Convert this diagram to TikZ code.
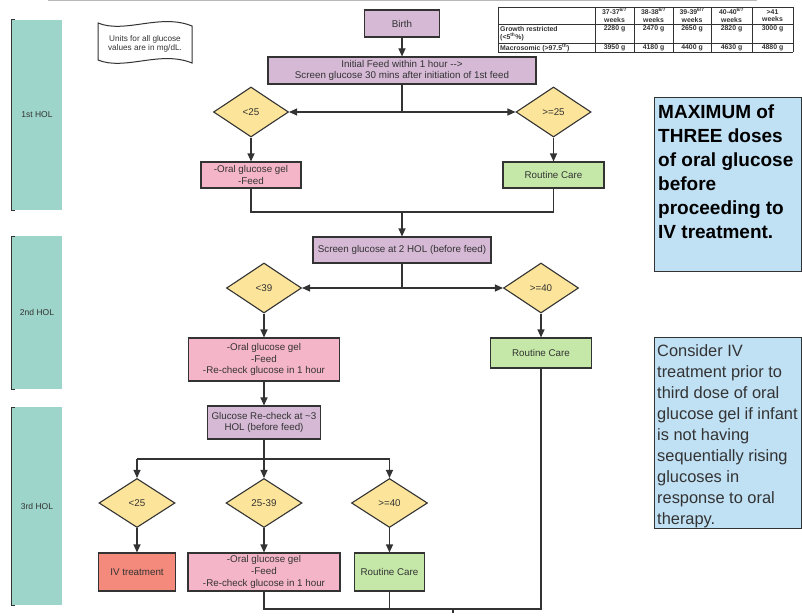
\documentclass[tikz,border=0pt]{standalone}
\usepackage{fontspec}
\setmainfont{Liberation Sans}
\usetikzlibrary{shapes.geometric,arrows.meta}
\definecolor{lc}{HTML}{333333}
\definecolor{tc}{HTML}{333333}
\definecolor{purp}{HTML}{D5B9D5}
\definecolor{yel}{HTML}{FCE59A}
\definecolor{pnk}{HTML}{F5B5C8}
\definecolor{grn}{HTML}{C5E8A8}
\definecolor{sal}{HTML}{F48A7B}
\definecolor{teal}{HTML}{9DD5CA}
\definecolor{blu}{HTML}{C0E0F4}
\tikzset{
  ln/.style={draw=lc, line width=1.1pt},
  bx/.style={rectangle, draw=lc, line width=1.1pt, inner sep=0pt, align=center, text=tc, font=\fontsize{9.8}{11.7}\selectfont},
  dm/.style={diamond, draw=lc, line width=1.1pt, fill=yel, inner sep=0pt, minimum width=75pt, minimum height=50pt, text=tc, font=\fontsize{9.8}{11.7}\selectfont},
  arr/.style={ln, -{Triangle[length=8pt,width=7pt]}},
  tbl/.style={draw=lc, line width=0.6pt},
  tt/.style={inner sep=0pt, text=tc, font=\fontsize{6.9}{7.6}\selectfont\bfseries, align=center},
  hol/.style={fill=teal, draw=none},
  holtxt/.style={inner sep=0pt, text=tc, font=\fontsize{8.5}{10}\selectfont},
  brk/.style={draw=lc, line width=1pt},
}
\begin{document}
\begin{tikzpicture}[x=1pt,y=-1pt]
\useasboundingbox (0,0) rectangle (802,615);
\fill[white] (0,0) rectangle (802,615);
% top gray line
\draw[gray!55, line width=2pt] (48,0.5) -- (757,0.5);

% HOL bars
\fill[hol] (12,20) rectangle (62,210);
\draw[brk] (15,20) -- (11,20) -- (11,210) -- (15,210);
\node[holtxt] (hol1) at (37,115) {1st HOL};
\fill[hol] (12,236) rectangle (62,389);
\draw[brk] (15,236) -- (11,236) -- (11,389) -- (15,389);
\node[holtxt] (hol2) at (37,312) {2nd HOL};
\fill[hol] (12,407) rectangle (62,605);
\draw[brk] (15,407) -- (11,407) -- (11,605) -- (15,605);
\node[holtxt] (hol3) at (37,506) {3rd HOL};

% units banner
\draw[ln, line width=1pt, fill=white] (98,23) .. controls (125,34) and (160,13) .. (192,26)
  -- (192,63) .. controls (160,50) and (125,71) .. (98,60) -- cycle;
\node[inner sep=0pt, text=tc, align=center, font=\fontsize{8.2}{9.7}\selectfont] (units) at (145,44) {Units for all glucose\\values are in mg/dL.};

% table
\foreach \x in {498,595,634,673,711,752,793} \draw[tbl] (\x,7) -- (\x,52);
\foreach \y in {7,24,43,52} \draw[tbl] (498,\y) -- (793,\y);
\node[tt] (h1) at (614.5,15.5) {37-37\textsuperscript{6/7}\\weeks};
\node[tt] (h2) at (653.5,15.5) {38-38\textsuperscript{6/7}\\weeks};
\node[tt] (h3) at (692,15.5) {39-39\textsuperscript{6/7}\\weeks};
\node[tt] (h4) at (731.5,15.5) {40-40\textsuperscript{6/7}\\weeks};
\node[tt] (h5) at (772.5,15.5) {>41\\weeks};
\node[tt, anchor=west, align=left] (r1) at (500,33.5) {Growth restricted\\(<5\textsuperscript{th}\%)};
\node[tt, anchor=west, align=left] (r2) at (500,47.5) {Macrosomic (>97.5\textsuperscript{th})};
\node[tt] (g1v) at (614.5,29) {2280 g};
\node[tt] (g2v) at (653.5,29) {2470 g};
\node[tt] (g3v) at (692,29) {2650 g};
\node[tt] (g4v) at (731.5,29) {2820 g};
\node[tt] (g5v) at (772.5,29) {3000 g};
\node[tt] (m1v) at (614.5,47.5) {3950 g};
\node[tt] (m2v) at (653.5,47.5) {4180 g};
\node[tt] (m3v) at (692,47.5) {4400 g};
\node[tt] (m4v) at (731.5,47.5) {4630 g};
\node[tt] (m5v) at (772.5,47.5) {4880 g};

% notes
\node[draw=lc, line width=1pt, fill=blu, minimum width=147pt, minimum height=173pt, inner sep=0pt] (note1) at (727.5,184.5) {};
\node[anchor=north west, inner sep=0pt, align=left, text=black, font=\fontsize{19}{24}\selectfont\bfseries] (note1t) at (658,105)
  {MAXIMUM of\\THREE doses\\of oral glucose\\before\\proceeding to\\IV treatment.};
\node[draw=lc, line width=1pt, fill=blu, minimum width=147pt, minimum height=191pt, inner sep=0pt] (note2) at (727.5,432.5) {};
\node[anchor=north west, inner sep=0pt, align=left, text=tc, font=\fontsize{16.4}{21}\selectfont] (note2t) at (657,344)
  {Consider IV\\treatment prior to\\third dose of oral\\glucose gel if infant\\is not having\\sequentially rising\\glucoses in\\response to oral\\therapy.};

% flowchart 1st HOL
\node[bx, fill=purp, minimum width=75pt, minimum height=27pt] (birth) at (402,23.5) {Birth};
\node[bx, fill=purp, minimum width=268pt, minimum height=27pt] (feed) at (402,70.5) {Initial Feed within 1 hour -{}->\\Screen glucose 30 mins after initiation of 1st feed};
\node[dm] (d1l) at (251,112) {<25};
\node[dm] (d1r) at (553.5,112) {>=25};
\node[bx, fill=pnk, minimum width=100pt, minimum height=26pt] (p1) at (251,175) {-Oral glucose gel\\-Feed};
\node[bx, fill=grn, minimum width=101pt, minimum height=26pt] (gr1) at (553.5,175) {Routine Care};
\coordinate (s1) at (402,112);
\coordinate (j1) at (402,212);
\draw[arr] (birth) -- (feed);
\draw[ln] (feed) -- (s1);
\draw[arr] (s1) -- (d1l.east);
\draw[arr] (s1) -- (d1r.west);
\draw[arr] (d1l) -- (p1);
\draw[arr] (d1r) -- (gr1);
\draw[ln] (p1.south) |- (j1) -| (gr1.south);

% 2nd HOL
\node[bx, fill=purp, minimum width=178pt, minimum height=26pt] (screen) at (402,250) {Screen glucose at 2 HOL (before feed)};
\draw[arr] (j1) -- (screen);
\node[dm] (d2l) at (264,288) {<39};
\node[dm] (d2r) at (541,288) {>=40};
\coordinate (s2) at (402,288);
\draw[ln] (screen) -- (s2);
\draw[arr] (s2) -- (d2l.east);
\draw[arr] (s2) -- (d2r.west);
\node[bx, fill=pnk, minimum width=151pt, minimum height=43pt] (p2) at (264,359.5) {-Oral glucose gel\\-Feed\\-Re-check glucose in 1 hour};
\node[bx, fill=grn, minimum width=101pt, minimum height=30pt] (gr2) at (541,353) {Routine Care};
\draw[arr] (d2l) -- (p2);
\draw[arr] (d2r) -- (gr2);

% 3rd HOL
\node[bx, fill=purp, minimum width=113pt, minimum height=33pt] (recheck) at (264,422.5) {Glucose Re-check at \textasciitilde 3\\HOL (before feed)};
\draw[arr] (p2) -- (recheck);
\node[dm, minimum width=76pt, minimum height=49pt] (d3a) at (137,503) {<25};
\node[dm, minimum width=76pt, minimum height=49pt] (d3b) at (264,503) {25-39};
\node[dm, minimum width=76pt, minimum height=49pt] (d3c) at (389.5,503) {>=40};
\coordinate (s3) at (264,459);
\coordinate (s3a) at (137,459);
\coordinate (s3c) at (389.5,459);
\draw[ln] (recheck) -- (s3);
\draw[ln] (s3a) -- (s3c);
\draw[arr] (s3a) -- (d3a);
\draw[arr] (s3) -- (d3b);
\draw[arr] (s3c) -- (d3c);
\node[bx, fill=sal, minimum width=77pt, minimum height=38pt] (iv) at (137,572) {IV treatment};
\node[bx, fill=pnk, minimum width=152pt, minimum height=38pt] (p3) at (264,572) {-Oral glucose gel\\-Feed\\-Re-check glucose in 1 hour};
\node[bx, fill=grn, minimum width=70pt, minimum height=38pt] (gr3) at (389.5,572) {Routine Care};
\draw[arr] (d3a) -- (iv);
\draw[arr] (d3b) -- (p3);
\draw[arr] (d3c) -- (gr3);
\coordinate (b1) at (264,609);
\coordinate (b2) at (541,609);
\coordinate (b3) at (453,609);
\coordinate (b4) at (453,613);
\draw[ln] (p3.south) -- (b1) -- (b2) -- (gr2.south);
\draw[ln] (gr3.south) -- (gr3.south |- b1);
\draw[ln] (b3) -- (b4);
\end{tikzpicture}
\end{document}
